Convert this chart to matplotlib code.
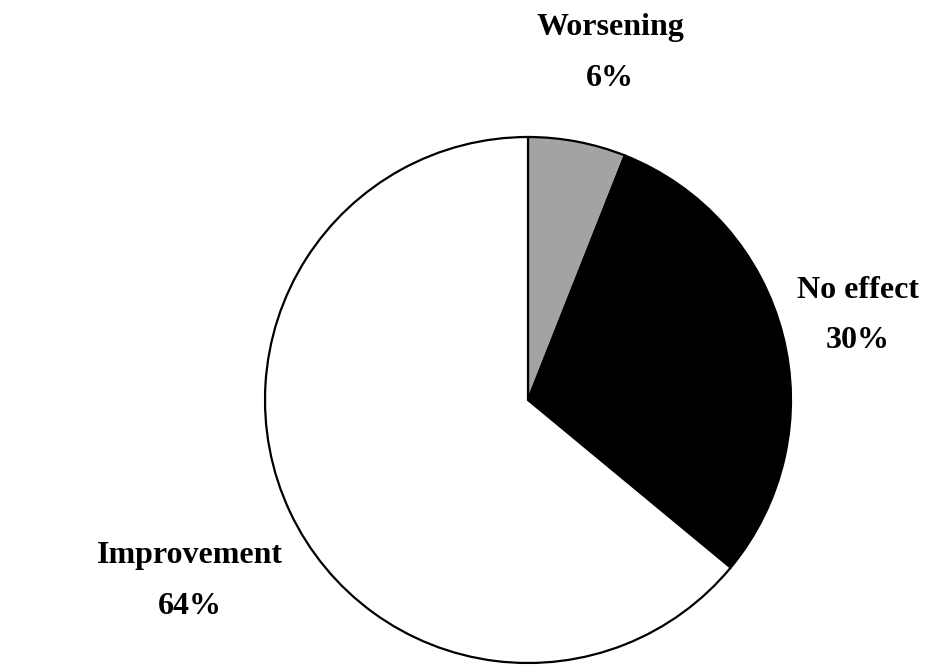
import matplotlib.pyplot as plt

# Data
categories = ['Worsening', 'No effect', 'Improvement']
shares = [6, 30, 64]
colors = ['#a3a3a3', '#000000', '#ffffff']

# label positions in pixel coords (x, y from top)
label_pos = [(610, 28), (858, 290), (190, 556)]

W, H = 947, 668
fig = plt.figure(figsize=(W / 100, H / 100), dpi=100)
ax = fig.add_axes([0, 0, 1, 1])

ax.pie(
    shares,
    colors=colors,
    startangle=90,
    counterclock=False,
    center=(528, H - 400),
    radius=263,
    wedgeprops=dict(edgecolor='black', linewidth=1.6),
)
ax.set_xlim(0, W)
ax.set_ylim(0, H)
ax.set_aspect('equal', adjustable='box')
ax.axis('off')

for name, val, (x, y) in zip(categories, shares, label_pos):
    ax.text(x, H - y, name, ha='center', va='center', fontsize=23,
            fontweight='bold', family='Liberation Serif')
    ax.text(x, H - y - 51, f'{val}%', ha='center', va='center', fontsize=23,
            fontweight='bold', family='Liberation Serif')

fig.savefig('out.png', dpi=100)
